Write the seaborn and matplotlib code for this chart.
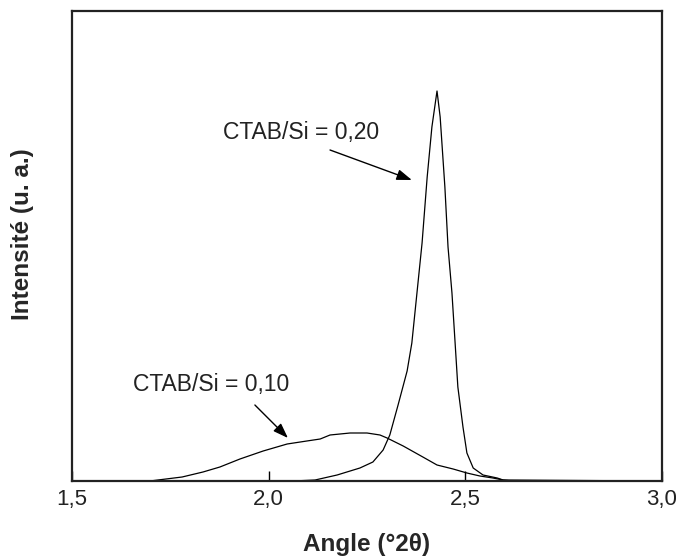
import matplotlib
matplotlib.use("Agg")
import matplotlib.pyplot as plt
import seaborn as sns
import pandas as pd

# ---- data (intensity in arbitrary units) ----
angle_010 = [1.698, 1.780, 1.833, 1.876, 1.927, 1.986, 2.047, 2.097, 2.131, 2.156,
             2.207, 2.250, 2.283, 2.301, 2.342, 2.392, 2.428, 2.469, 2.504, 2.537,
             2.570, 2.596, 2.620]
intens_010 = [0, 4, 9, 14, 22, 30, 37, 40, 42, 46,
              48, 48, 46, 43, 35, 24, 16, 12, 8, 5,
              3, 1, 0]

angle_020 = [2.062, 2.118, 2.174, 2.232, 2.265, 2.291, 2.308, 2.329, 2.352, 2.364,
             2.377, 2.390, 2.403, 2.415, 2.428, 2.436, 2.448, 2.456, 2.466, 2.474,
             2.481, 2.494, 2.504, 2.520, 2.545, 2.581, 2.596, 3.000]
intens_020 = [0, 1, 6, 13, 19, 31, 46, 76, 110, 138,
              188, 238, 304, 354, 390, 364, 294, 234, 188, 138,
              94, 54, 28, 13, 6, 3, 1, 0]

x_ticks = [1.5, 2.0, 2.5, 3.0]
x_tick_labels = ["1,5", "2,0", "2,5", "3,0"]
label_010 = "CTAB/Si = 0,10"
label_020 = "CTAB/Si = 0,20"

df010 = pd.DataFrame({"angle": angle_010, "intensite": intens_010})
df020 = pd.DataFrame({"angle": angle_020, "intensite": intens_020})

sns.set_style("white")
plt.rcParams["font.family"] = ["Liberation Sans", "DejaVu Sans"]

fig = plt.figure(figsize=(6.76, 5.6), dpi=100)
ax = fig.add_axes([72 / 676, 1 - 481 / 560, 590 / 676, 470 / 560])

sns.lineplot(data=df010, x="angle", y="intensite", ax=ax, color="black",
             lw=0.9, sort=False, clip_on=False)
sns.lineplot(data=df020, x="angle", y="intensite", ax=ax, color="black",
             lw=0.9, sort=False, clip_on=False)

ax.set_xlim(1.5, 3.0)
ax.set_ylim(0, 470)
ax.set_xticks(x_ticks)
ax.set_xticklabels(x_tick_labels, fontsize=16, color="#222222")
ax.set_yticks([])
ax.set_xlabel("")
ax.set_ylabel("")
ax.tick_params(axis="x", direction="in", length=7.5, width=1, color="black",
               pad=6, bottom=True)
for s in ax.spines.values():
    s.set_visible(True)
    s.set_color("#222222")
    s.set_linewidth(1.6)

# annotations
arrow_kw = dict(arrowstyle="-|>,head_length=0.7,head_width=0.25", color="black",
                lw=1, mutation_scale=13, shrinkA=0, shrinkB=0)
ax.text(1.884, 348, label_020, fontsize=16.5, ha="left", va="center",
        color="#222222")
ax.annotate("", xy=(2.364, 301), xytext=(2.156, 331), arrowprops=arrow_kw)
ax.text(1.655, 97, label_010, fontsize=16.5, ha="left", va="center",
        color="#222222")
ax.annotate("", xy=(2.049, 43), xytext=(1.965, 76), arrowprops=arrow_kw)

fig.text(367 / 676, 1 - 544 / 560, "Angle (°2θ)", fontsize=17.5,
         fontweight="bold", ha="center", va="center")
fig.text(23 / 676, 1 - 234 / 560, "Intensité (u. a.)", fontsize=17.5,
         fontweight="bold", ha="center", va="center", rotation=90)

fig.savefig("out.png", dpi=100)
